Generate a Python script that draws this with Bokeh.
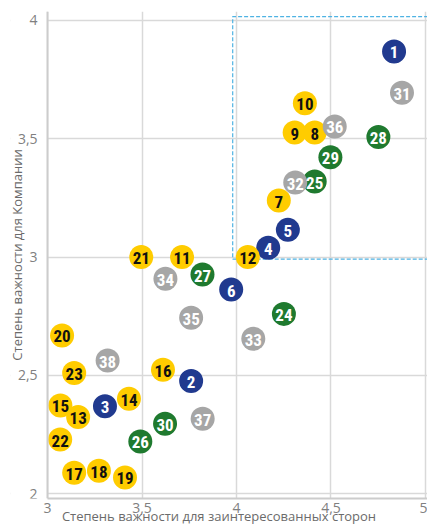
from bokeh.plotting import figure
from bokeh.models import ColumnDataSource, Range1d, FixedTicker, BoxAnnotation
from bokeh.core.properties import value
from bokeh.embed import file_html
from bokeh.resources import INLINE

# ---- data ----
ids = list(range(1, 39))
stakeholders = [4.834, 3.760, 3.304, 4.168, 4.272, 3.972, 4.224, 4.414, 4.308, 4.362,
                3.712, 4.060, 3.162, 3.431, 3.068, 3.611, 3.141, 3.272, 3.410, 3.077,
                3.496, 3.067, 3.141, 4.251, 4.414, 3.491, 3.820, 4.751, 4.497, 3.622,
                4.876, 4.311, 4.089, 3.624, 3.760, 4.520, 3.821, 3.318]
company = [3.869, 2.476, 2.370, 3.039, 3.115, 2.863, 3.239, 3.526, 3.526, 3.650,
           3.000, 3.000, 2.324, 2.401, 2.373, 2.524, 2.089, 2.097, 2.069, 2.669,
           3.000, 2.229, 2.510, 2.760, 3.319, 2.221, 2.926, 3.507, 3.422, 2.296,
           3.694, 3.315, 2.655, 2.908, 2.744, 3.552, 2.317, 2.563]
groups = (["economy"] * 6 + ["social"] * 17 + ["environment"] * 7 + ["other"] * 8)

x_ticks = [3, 3.5, 4, 4.5, 5]
x_tick_labels = ["3", "3,5", "4", "4,5", "5"]
y_ticks = [2, 2.5, 3, 3.5, 4]
y_tick_labels = ["2", "2,5", "3", "3,5", "4"]

x_label = "Степень важности для заинтересованных сторон"
y_label = "Степень важности для Компании"

# axis extents (data units); the frame reaches further left so the labels sit where they should
x_min, x_max = 3.0, 5.011
x_view_start = 2.804
y_view_start, y_view_end = 1.980, 4.0376

# material zone bounds (open to the right)
zone_left, zone_bottom, zone_top, zone_right = 3.98, 2.991, 4.016, 5.3
zone_xs = [zone_right, zone_left, zone_left, zone_right]
zone_ys = [zone_top, zone_top, zone_bottom, zone_bottom]

# ---- styles ----
fill_colors = {"economy": "#213a8f", "social": "#ffcc00", "environment": "#1f7a2f", "other": "#a6a6a6"}
text_colors = {"economy": "#ffffff", "social": "#111111", "environment": "#ffffff", "other": "#ffffff"}

src = ColumnDataSource(dict(
    x=stakeholders, y=company, label=[str(i) for i in ids],
    fill=[fill_colors[g] for g in groups], tcol=[text_colors[g] for g in groups],
))

p = figure(width=427, height=528, output_backend="svg", toolbar_location=None,
           x_range=Range1d(x_view_start, x_max), y_range=Range1d(y_view_start, y_view_end),
           min_border_left=10, min_border_right=0, min_border_top=11, min_border_bottom=30)
p.outline_line_color = None
p.background_fill_color = "white"
p.border_fill_color = "white"

for ax, ticks, labels in ((p.xaxis[0], x_ticks, x_tick_labels), (p.yaxis[0], y_ticks, y_tick_labels)):
    ax.ticker = FixedTicker(ticks=ticks)
    ax.major_label_overrides = {t: l for t, l in zip(ticks, labels)}
    ax.major_tick_line_color = None
    ax.minor_tick_line_color = None
    ax.axis_line_color = "#cccccc"
    ax.axis_line_width = 2
    ax.major_label_text_font = "Open Sans"
    ax.major_label_text_font_size = "14px"
    ax.major_label_text_color = "#808080"
    ax.axis_label_text_font = "Open Sans"
    ax.axis_label_text_font_size = "13px"
    ax.axis_label_text_font_style = "normal"
    ax.axis_label_text_color = "#6b6b6b"

p.yaxis.fixed_location = x_min
p.yaxis.major_label_standoff = 4
p.yaxis.axis_label = y_label
p.yaxis.axis_label_standoff = -11

p.xaxis.bounds = (x_min, x_max)
p.xaxis.major_label_standoff = -2
p.xaxis.axis_label = x_label
p.xaxis.axis_label_standoff = -9

p.grid.grid_line_color = "#d9d9d9"
p.grid.grid_line_width = 1.5

# blank strip left of the y axis (covers grid lines there)
p.add_layout(BoxAnnotation(right=x_min, level="underlay", fill_color="white", fill_alpha=1.0,
                           line_color=None))

p.line(zone_xs, zone_ys, line_color="#4fb3e3", line_width=1.2, line_dash="4 2")

p.scatter("x", "y", source=src, size=24, fill_color="fill", line_color=None)
p.text("x", "y", text="label", source=src, text_color="tcol",
       text_font=value("'Liberation Sans Narrow', 'Roboto Condensed', 'DejaVu Sans Condensed', sans-serif"),
       text_font_style="bold", text_font_size="17px", text_align="center", text_baseline="middle",
       y_offset=1)

open("out.html", "w").write(file_html(p, INLINE))
